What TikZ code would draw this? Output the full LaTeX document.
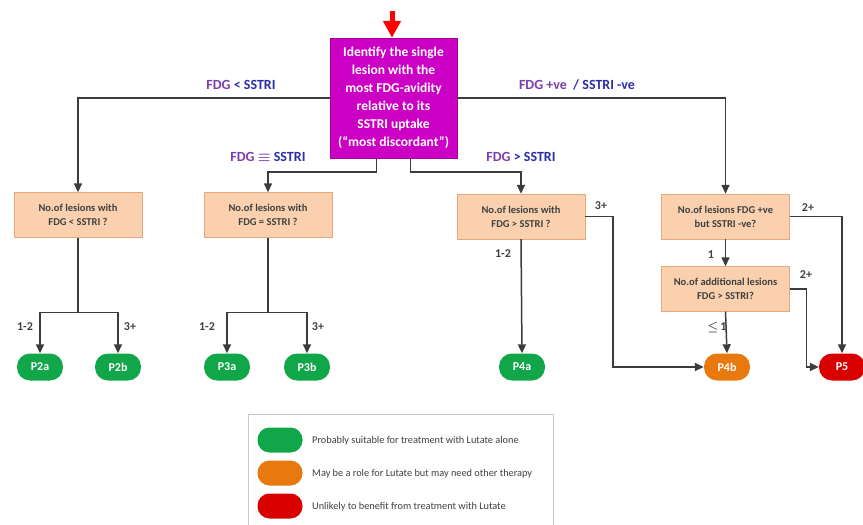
\documentclass[tikz,border=0pt]{standalone}
\usepackage{amsmath}
\usepackage{fontspec}
\setmainfont{Carlito}
\usetikzlibrary{arrows.meta}
\definecolor{magbox}{HTML}{CC00C4}
\definecolor{magedge}{HTML}{A8009E}
\definecolor{peach}{HTML}{FAD0AE}
\definecolor{peachedge}{HTML}{E6A97E}
\definecolor{linegrey}{HTML}{3C3C3C}
\definecolor{txtgrey}{HTML}{404040}
\definecolor{pgreen}{HTML}{12A64A}
\definecolor{porange}{HTML}{E8790F}
\definecolor{pred}{HTML}{D90000}
\definecolor{fdgpurple}{HTML}{7A3FA8}
\definecolor{sstriblue}{HTML}{2A2FA8}
\definecolor{legedge}{HTML}{C8C8C8}
\tikzset{
  mainbox/.style={draw=magedge, fill=magbox, text=white, font=\bfseries\fontsize{13.5}{18}\selectfont,
    align=center, minimum width=127pt, minimum height=120pt, inner sep=1pt},
  qbox/.style={draw=peachedge, fill=peach, text=txtgrey, font=\bfseries\fontsize{10.5}{14}\selectfont,
    align=center, minimum width=128pt, minimum height=45pt, inner sep=1pt},
  pill/.style={rounded corners=13pt, minimum width=46pt, minimum height=27pt, inner sep=0pt,
    text=white, font=\bfseries\fontsize{12}{14}\selectfont},
  gpill/.style={pill, fill=pgreen},
  opill/.style={pill, fill=porange},
  rpill/.style={pill, fill=pred},
  conn/.style={draw=linegrey, line width=1.5pt},
  arr/.style={conn, -{Triangle[length=9pt,width=8pt]}},
  brlabel/.style={text=txtgrey, font=\bfseries\fontsize{12}{14}\selectfont, inner sep=0pt},
  toplabel/.style={font=\bfseries\fontsize{14}{16}\selectfont, inner sep=0pt},
  legtext/.style={text=txtgrey, font=\fontsize{10.3}{12}\selectfont, anchor=west, inner sep=0pt},
  legpill/.style={rounded corners=12pt, minimum width=45pt, minimum height=25pt, inner sep=0pt}
}
\begin{document}
\begin{tikzpicture}[x=1pt,y=-1pt]
\useasboundingbox (0,0) rectangle (863,525);
\fill[white] (0,0) rectangle (863,525);

% main box
\node[mainbox] (top) at (393.5,98) {Identify the single\\lesion with the\\most FDG-avidity\\relative to its\\SSTRI uptake\\(“most discordant”)};
\coordinate (redstart) at (392,11);
\draw[red, line width=5pt, -{Triangle[length=17pt,width=17pt]}] (redstart) -- (top.north -| redstart);

% question boxes
\node[qbox] (b1) at (78,215) {No.of lesions with\\FDG < SSTRI ?};
\node[qbox] (b2) at (268,215) {No.of lesions with\\FDG = SSTRI ?};
\node[qbox] (b3) at (521,216.5) {No.of lesions with\\FDG > SSTRI ?};
\node[qbox] (b4) at (725.5,216.5) {No.of lesions FDG +ve\\but SSTRI -ve?};
\node[qbox] (b5) at (725.5,289) {No.of additional lesions\\FDG > SSTRI?};

% outcome pills
\node[gpill] (p2a) at (40,367) {P2a};
\node[gpill] (p2b) at (118,367) {P2b};
\node[gpill] (p3a) at (227,367) {P3a};
\node[gpill] (p3b) at (307,367) {P3b};
\node[gpill] (p4a) at (522,367) {P4a};
\node[opill] (p4b) at (727,367) {P4b};
\node[rpill] (p5) at (842,367) {P5};

% connectors from main box
\draw[arr] (top.west) -| (b1.north);
\draw[arr] (top.east) -| (b4.north);
\draw[arr] ([xshift=-17pt]top.south) -- ++(0,14) -| (b2.north);
\draw[arr] ([xshift=17pt]top.south) -- ++(0,14) -| (b3.north);

% labels on main branches
\node[toplabel] (l1) at (241,85) {\textcolor{fdgpurple}{FDG} \textcolor{sstriblue}{< SSTRI}};
\node[toplabel] (l2) at (577,85) {\textcolor{fdgpurple}{FDG +ve} \ \textcolor{sstriblue}{/ SSTRI -ve}};
\node[toplabel] (l3) at (268,157) {\textcolor{fdgpurple}{FDG $\boldsymbol{\equiv}$} \textcolor{sstriblue}{SSTRI}};
\node[toplabel] (l4) at (521,157) {\textcolor{fdgpurple}{FDG} \textcolor{sstriblue}{> SSTRI}};

% box1 branches
\draw[conn] (b1.south) -- ++(0,75) coordinate (s1);
\draw[arr] (s1) -| (p2a.north);
\draw[arr] (s1) -| (p2b.north);
\node[brlabel] (b1a) at (25,327) {1-2};
\node[brlabel] (b1b) at (130,327) {3+};

% box2 branches
\draw[conn] (b2.south) -- ++(0,75) coordinate (s2);
\draw[arr] (s2) -| (p3a.north);
\draw[arr] (s2) -| (p3b.north);
\node[brlabel] (b2a) at (207,327) {1-2};
\node[brlabel] (b2b) at (318,327) {3+};

% box3 branches
\draw[arr] (b3.south) -- (p4a.north);
\draw[arr] (b3.east) -- ++(28,0) |- (p4b.west);
\node[brlabel] (b3a) at (503,254) {1-2};
\node[brlabel] (b3b) at (601,206) {3+};

% box4 / box5 branches
\draw[arr] (b4.south) -- (b5.north);
\draw[arr] (b4.east) -| (p5.north);
\draw[arr] (b5.east) -- ++(17,0) |- (p5.west);
\draw[arr] (b5.south) -- (p4b.north);
\node[brlabel] (b4a) at (711,255) {1};
\node[brlabel] (b4b) at (808,208) {2+};
\node[brlabel] (b5a) at (806,275) {2+};
\node[brlabel] (b5b) at (717,327) {$\boldsymbol{\le}$\,1};

% legend
\draw[legedge, line width=0.8pt] (248,414) rectangle (553,530);
\node[legpill, fill=pgreen] (lg1) at (280,440) {};
\node[legpill, fill=porange] (lg2) at (280,473) {};
\node[legpill, fill=pred] (lg3) at (280,506) {};
\node[legtext] (t1) at (312,441) {Probably suitable for treatment with Lutate alone};
\node[legtext] (t2) at (312,474) {May be a role for Lutate but may need other therapy};
\node[legtext] (t3) at (312,507) {Unlikely to benefit from treatment with Lutate};
\end{tikzpicture}
\end{document}
